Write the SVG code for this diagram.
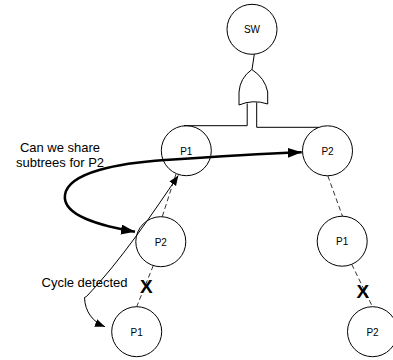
<svg xmlns="http://www.w3.org/2000/svg" width="393" height="360" viewBox="0 0 393 360">
<style>
.node circle{fill:#fff;stroke:#000;stroke-width:1}
.node text{font-family:"Liberation Sans",Arial,sans-serif;font-size:10px;fill:#000;text-anchor:middle}
.line{fill:none;stroke:#000;stroke-width:1}
.dash{fill:none;stroke:#000;stroke-width:0.8;stroke-dasharray:5,3}
.bold{fill:none;stroke:#000;stroke-width:2.5}
.label{font-family:"Liberation Sans",Arial,sans-serif;font-size:13px;fill:#000}
.x{font-family:"Liberation Sans",Arial,sans-serif;font-size:19px;font-weight:bold;fill:#000;text-anchor:middle}
</style>
<defs>
<marker id="bigArrow" markerUnits="userSpaceOnUse" markerWidth="16" markerHeight="12" refX="14" refY="5" orient="auto-start-reverse">
<path d="M0,0 L14,5 L0,10 Z" fill="#000"/>
</marker>
<marker id="smallArrow" markerUnits="userSpaceOnUse" markerWidth="12" markerHeight="10" refX="10" refY="4" orient="auto-start-reverse">
<path d="M0,0 L10,4 L0,8 Z" fill="#000"/>
</marker>
</defs>
<rect width="393" height="360" fill="#fff"/>
<g id="gate">
<path d="M251.8,69.5 Q240,78 239,92 V105 Q253,99 267.7,104 V92 Q265,78 251.8,69.5 Z" fill="#fff" stroke="#000" stroke-width="1"/>
</g>
<g id="sw" class="node"><circle cx="252" cy="29.3" r="25"/><text x="252" y="33.3">SW</text></g>
<g id="p1-top" class="node"><circle cx="186.3" cy="150.7" r="25"/><text x="186.3" y="154.5">P1</text></g>
<g id="p2-top" class="node"><circle cx="327.5" cy="150.8" r="25"/><text x="327.5" y="154.6">P2</text></g>
<g id="p2-mid" class="node"><circle cx="160.8" cy="241.7" r="25"/><text x="160.8" y="245.5">P2</text></g>
<g id="p1-bottom" class="node"><circle cx="136.7" cy="331.7" r="25"/><text x="136.7" y="335.5">P1</text></g>
<g id="p1-right" class="node"><circle cx="342.2" cy="241.2" r="25"/><text x="342.2" y="245">P1</text></g>
<g id="p2-right" class="node"><circle cx="372.5" cy="331.7" r="25"/><text x="372.5" y="335.5">P2</text></g>
<g id="connectors">
<line class="line" x1="254.3" y1="54.3" x2="252" y2="69.5"/>
<path class="line" d="M247.2,103.5 V125.7 H184"/>
<path class="line" d="M256.7,102.5 V127.3 H318.7"/>
<line class="dash" x1="327.8" y1="175.8" x2="342.5" y2="216.2"/>
<line class="dash" x1="351.7" y1="264.3" x2="372.5" y2="306.7"/>
<line class="dash" x1="162.3" y1="216.5" x2="176" y2="174"/>
<line class="dash" x1="153.3" y1="265.5" x2="136.7" y2="306.7"/>
<path class="bold" d="M135,231.7 C100,226 62,215 65,195 C68,172 120,163 165,160 C210,157 260,154 301.7,152.3" marker-start="url(#bigArrow)" marker-end="url(#bigArrow)"/>
<path class="line" d="M105,326.7 C93,322 85,312 84.5,297.5 L86.5,296.5 C120,262 155,210 178.3,175.5" marker-start="url(#smallArrow)" marker-end="url(#smallArrow)"/>
</g>
<g id="labels">
<text class="label" x="60" y="151.5" text-anchor="middle">Can we share</text>
<text class="label" x="60" y="166.5" text-anchor="middle">subtrees for P2</text>
<text class="label" x="41.5" y="286.7">Cycle detected</text>
<text class="x" x="146.3" y="292.7">X</text>
<text class="x" x="362.8" y="298.3">X</text>
</g>
</svg>
